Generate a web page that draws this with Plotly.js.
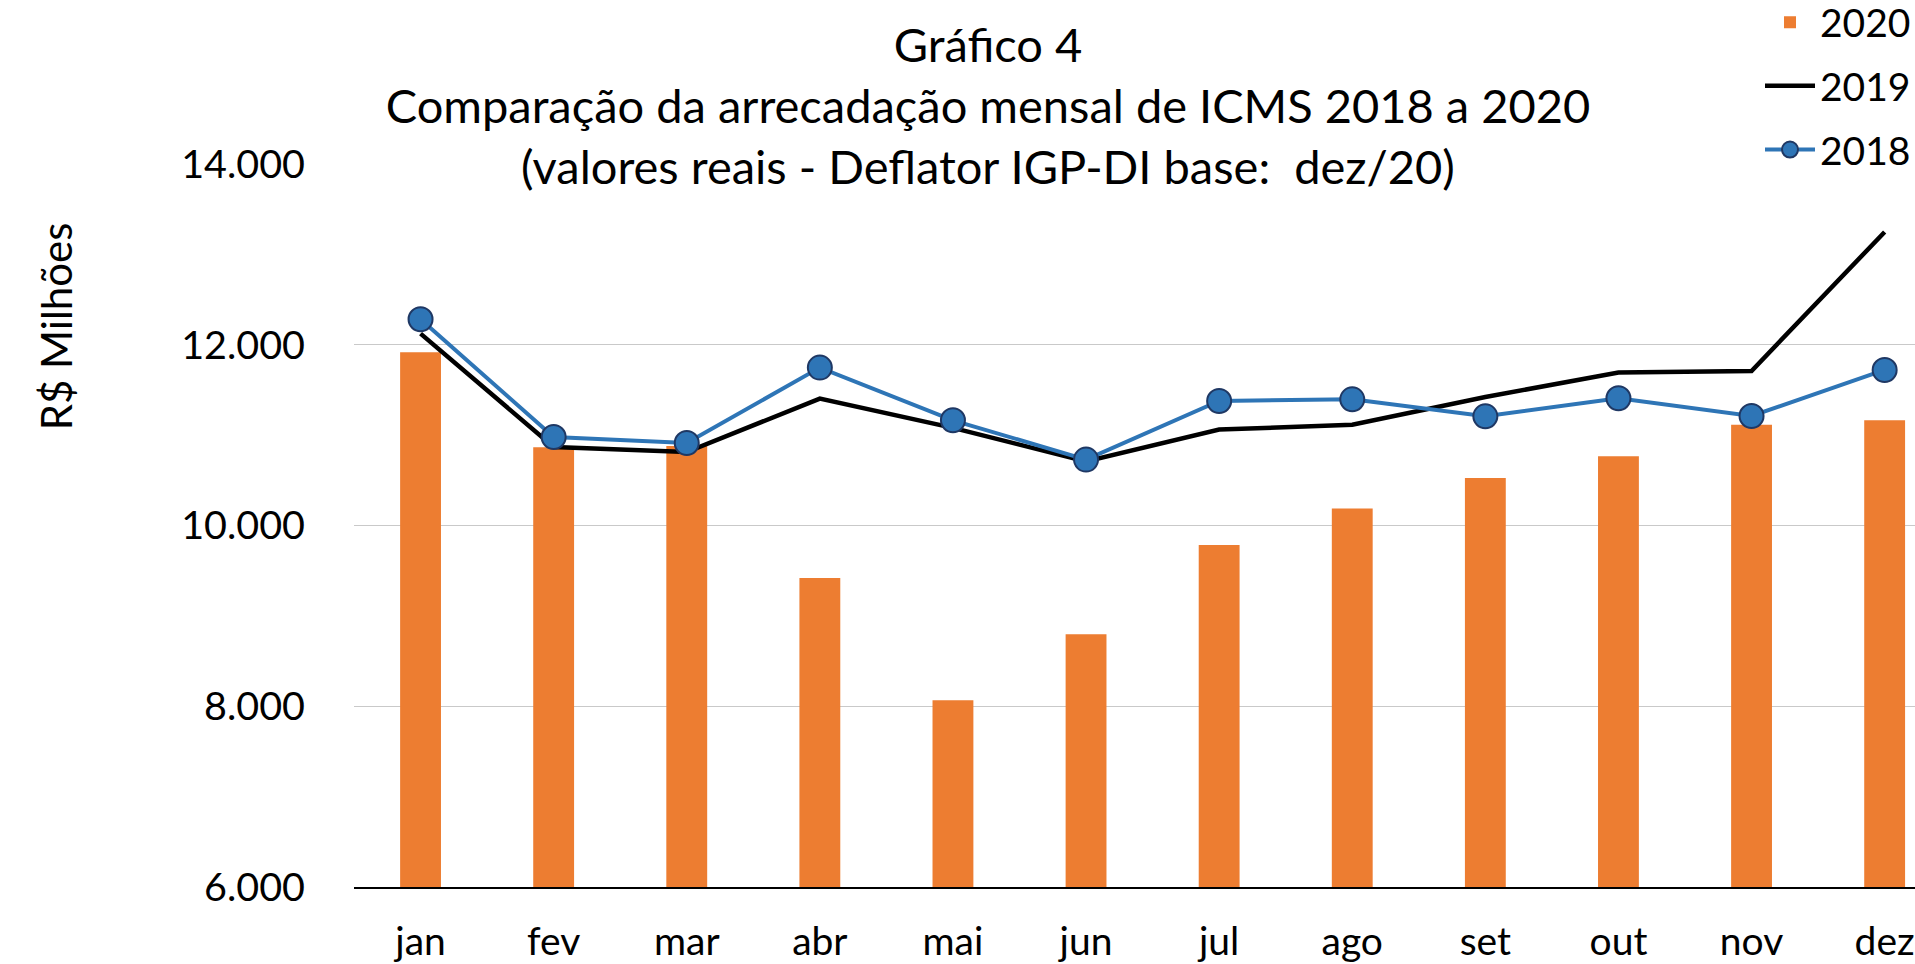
<!DOCTYPE html>
<html>
<head>
<meta charset="utf-8">
<script src="https://cdn.plot.ly/plotly-3.0.1.min.js"></script>
<style>
  html, body { margin: 0; padding: 0; background: #ffffff; }
  #chart { width: 1915px; height: 964px; }
</style>
</head>
<body>
<div id="chart"></div>
<script>
const months = ['jan', 'fev', 'mar', 'abr', 'mai', 'jun', 'jul', 'ago', 'set', 'out', 'nov', 'dez'];
const values2020 = [11916, 10865, 10880, 9418, 8067, 8797, 9783, 10188, 10526, 10766, 11116, 11164];
const values2019 = [12123, 10869, 10813, 11404, 11080, 10710, 11061, 11116, 11422, 11692, 11710, 13248];
const values2018 = [12282, 10979, 10913, 11747, 11164, 10729, 11378, 11396, 11208, 11408, 11212, 11721];
const yTicks = [6000, 8000, 10000, 12000, 14000];

const FONT = 'Lato, "Open Sans", sans-serif';

const traces = [
  {
    type: 'bar', name: '2020', x: months, y: values2020,
    width: 0.307,
    marker: { color: '#ED7D31' },
    legendgroup: 'a'
  },
  {
    type: 'scatter', mode: 'lines', name: '2019', x: months, y: values2019,
    line: { color: '#000000', width: 4.5 },
    legendgroup: 'b'
  },
  {
    type: 'scatter', mode: 'lines+markers', name: '2018', x: months, y: values2018,
    line: { color: '#2E75B6', width: 4 },
    marker: { color: '#2E75B6', size: 24, line: { color: '#1F3864', width: 2 } },
    legendgroup: 'c'
  }
];

const layout = {
  width: 1915, height: 964,
  paper_bgcolor: '#ffffff', plot_bgcolor: '#ffffff',
  separators: ',.',
  font: { family: FONT, color: '#000000', size: 39 },
  margin: { l: 354, r: 0, t: 164, b: 77, pad: 0, autoexpand: false },
  title: {
    text: 'Gráfico 4<br>Comparação da arrecadação mensal de ICMS 2018 a 2020<br>(valores reais - Deflator IGP-DI base:  dez/20)',
    font: { family: FONT, size: 47, color: '#000000' },
    x: 988 / 1915, xanchor: 'center', xref: 'container',
    y: 0.936, yanchor: 'top', yref: 'container',
    automargin: false
  },
  xaxis: {
    type: 'category',
    range: [-0.5, 11.228],
    automargin: false,
    showgrid: false,
    showline: true, linecolor: '#000000', linewidth: 1.5,
    ticks: '',
    tickfont: { family: FONT, size: 39, color: '#000000' },
    ticklabelstandoff: 20,
    fixedrange: true
  },
  yaxis: {
    range: [6000, 14000],
    automargin: false,
    tickvals: yTicks,
    tickformat: ',d',
    showgrid: true, gridcolor: '#C9C9C9', gridwidth: 1.3,
    zeroline: false, showline: false,
    ticks: '',
    tickfont: { family: FONT, size: 39.5, color: '#000000' },
    ticklabelstandoff: 48,
    fixedrange: true
  },
  showlegend: true,
  legend: {
    x: 1760 / 1915, xanchor: 'left', xref: 'container',
    y: (886.7 + 10) / 723, yanchor: 'top', yref: 'paper',
    font: { family: FONT, size: 39, color: '#000000' },
    bgcolor: 'rgba(0,0,0,0)',
    traceorder: 'grouped',
    tracegroupgap: 10,
    itemwidth: 50
  },
  annotations: [
    {
      text: 'R$ Milhões', textangle: -90,
      xref: 'paper', yref: 'paper',
      x: (56 - 354) / (1915 - 354), y: (886.7 - 326) / 723,
      xanchor: 'center', yanchor: 'middle',
      showarrow: false,
      font: { family: FONT, size: 42, color: '#000000' }
    }
  ]
};

Plotly.newPlot('chart', traces, layout, { displayModeBar: false, staticPlot: true });
</script>
</body>
</html>
